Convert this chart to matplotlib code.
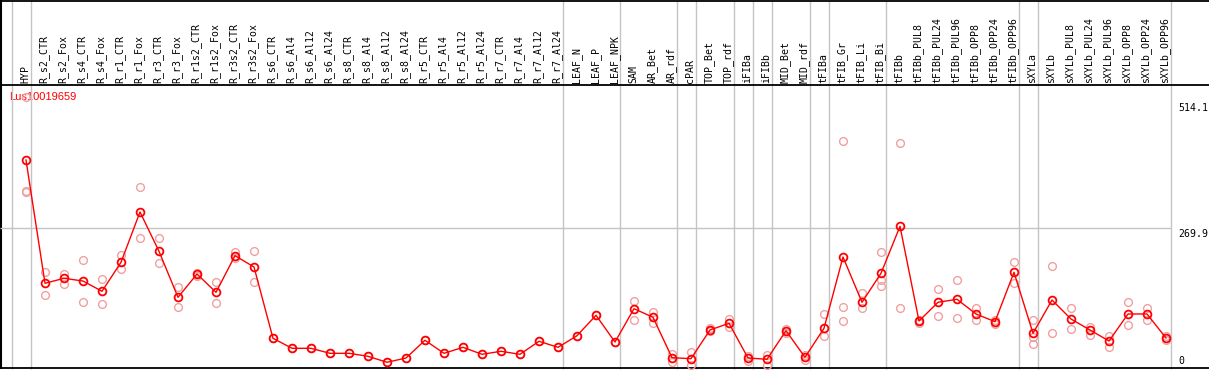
import matplotlib
matplotlib.use("Agg")
import matplotlib.pyplot as plt
import numpy as np

# ---------------- data ----------------
title = "Lus10019659"
labels = ["HYP", "R_s2_CTR", "R_s2_Fox", "R_s4_CTR", "R_s4_Fox", "R_r1_CTR", "R_r1_Fox",
          "R_r3_CTR", "R_r3_Fox", "R_r1s2_CTR", "R_r1s2_Fox", "R_r3s2_CTR", "R_r3s2_Fox",
          "R_s6_CTR", "R_s6_Al4", "R_s6_Al12", "R_s6_Al24", "R_s8_CTR", "R_s8_Al4",
          "R_s8_Al12", "R_s8_Al24", "R_r5_CTR", "R_r5_Al4", "R_r5_Al12", "R_r5_Al24",
          "R_r7_CTR", "R_r7_Al4", "R_r7_Al12", "R_r7_Al24", "LEAF_N", "LEAF_P", "LEAF_NPK",
          "SAM", "AR_Bet", "AR_rdf", "cPAR", "TOP_Bet", "TOP_rdf", "iFIBa", "iFIBb",
          "MID_Bet", "MID_rdf", "tFIBa", "tFIB_Gr", "tFIB_Li", "tFIB_Bi", "tFIBb",
          "tFIBb_PUL8", "tFIBb_PUL24", "tFIBb_PUL96", "tFIBb_OPP8", "tFIBb_OPP24",
          "tFIBb_OPP96", "sXYLa", "sXYLb", "sXYLb_PUL8", "sXYLb_PUL24", "sXYLb_PUL96",
          "sXYLb_OPP8", "sXYLb_OPP24", "sXYLb_OPP96"]
group_sizes = [1, 28, 3, 3, 1, 2, 1, 1, 2, 1, 3, 7, 1, 7]

means = [402.1, 163.2, 172.9, 167.6, 147.7, 203.9, 301.4, 225.2, 136.0, 181.2, 145.7,
         216.7, 194.8, 56.6, 37.2, 37.2, 27.5, 27.5, 21.7, 10.1, 18.4, 52.7, 27.5, 39.1,
         25.6, 31.4, 25.6, 50.8, 39.1, 61.6, 101.2, 49.4, 114.0, 97.3, 19.0, 17.1, 72.7,
         85.7, 18.4, 15.9, 71.3, 19.8, 76.0, 214.1, 126.4, 182.6, 273.6, 90.1, 126.4,
         132.2, 103.7, 88.8, 184.5, 66.3, 130.8, 94.0, 72.7, 51.4, 103.7, 103.7, 57.2]

reps = [
    [524.8, 341.5, 339.9], [184.5, 139.9], [181.2, 161.8], [208.3, 126.4], [170.9, 123.1],
    [217.4, 190.3], [349.2, 250.4], [250.4, 201.9], [156.0, 116.7], [184.1, 177.3],
    [166.3, 124.4], [223.8, 211.6], [225.2, 165.1],
    [56.6], [37.2], [37.2], [27.5], [27.5], [21.7], [10.1], [18.4], [52.7], [27.5],
    [39.1], [25.6], [31.4], [25.6], [50.8], [39.1], [61.6], [101.2], [49.4],
    [128.9, 92.1], [108.1, 86.8], [26.2, 11.2], [30.6, 4.8], [75.6, 70.0], [93.4, 77.9],
    [22.3, 13.2], [24.2, 4.8], [75.2, 67.4], [24.2, 14.5], [103.1, 61.6],
    [438.4, 116.7, 90.1], [143.8, 114.7], [223.3, 169.6, 158.5], [434.5, 114.7],
    [86.2, 92.0], [151.6, 99.2], [169.0, 95.3], [114.7, 92.6], [92.1, 83.7],
    [203.9, 163.8], [92.1, 59.7, 45.0], [196.1, 66.3], [114.7, 74.0], [79.1, 63.6],
    [61.6, 40.3], [126.4, 81.8], [114.7, 92.6], [61.6, 53.3],
]
ytick_values = [0, 269.9, 514.1]
ytick_labels = ["0", "269.9", "514.1"]

# ---------------- layout ----------------
W, H = 1209, 370
DPI = 100
fig = plt.figure(figsize=(W / DPI, H / DPI), dpi=DPI)

x0_px, dx_px = 26.0, 19.0          # pixel x of first column, column spacing
xlim = (-x0_px / dx_px, (W - x0_px) / dx_px)
plot_top, plot_bot = 85.0, 368.5   # pixel rows of plot area
y0_px, k = 367.5, 0.516           # pixel of value 0, pixels per unit

GRAY = "#c4c4c4"
RED = "#ff0000"
PINK = "#f0a0a0"
mono = "DejaVu Sans Mono"

# background axes in pixel coordinates (y downwards) for frame and header
bg = fig.add_axes([0, 0, 1, 1])
bg.set_xlim(*xlim)
bg.set_ylim(H, 0)
bg.axis("off")

ends = np.cumsum(group_sizes) - 1
seps = np.concatenate([[-1], ends]) + 0.25
bg.vlines(seps, 0, plot_bot, color=GRAY, lw=1.0, zorder=1)
bg.hlines([0.5, plot_top, plot_bot - 0.5], xlim[0], xlim[1], color="black", lw=1.3, zorder=3)
bg.vlines([xlim[0] + 0.03], 0, plot_bot, color="black", lw=1.5, zorder=3)

xs = np.arange(len(labels))
for x, lab in zip(xs, labels):
    bg.text(x - 0.05, plot_top - 2, lab, rotation=90, ha="center", va="bottom",
            fontsize=7.1, family=mono, color="black")

# main data axes
ax = fig.add_axes([0, (H - plot_bot) / H, 1, (plot_bot - plot_top) / H])
ax.set_xlim(*xlim)
ax.set_ylim((y0_px - plot_bot) / k, (y0_px - plot_top) / k)
ax.patch.set_alpha(0)
ax.axis("off")

ax.hlines([ytick_values[1]], xlim[0], seps[-1], color=GRAY, lw=1.0, zorder=1)

rx = [x for x, r in zip(xs, reps) for _ in r]
ry = [v for r in reps for v in r]
ax.plot(rx, ry, linestyle="none", marker="o", ms=5.6, mfc="none", mec=PINK,
        mew=1.0, zorder=2)
ax.plot(xs, means, color=RED, lw=1.0, marker="o", ms=5.6, mfc="none", mec=RED,
        mew=1.3, zorder=3)

# right-hand value labels
lab_x = (1178 - x0_px) / dx_px
for v, t in zip(ytick_values, ytick_labels):
    py = y0_px - v * k
    if v == 0:
        bg.text(lab_x, 366, t, ha="left", va="bottom", fontsize=7.1, family=mono)
    else:
        bg.text(lab_x, py + 0.5, t, ha="left", va="top", fontsize=7.1, family=mono)

# title
bg.text((9 - x0_px) / dx_px, 97, title, color=RED, ha="left", va="center",
        fontsize=8.0, family="Liberation Sans", zorder=0)

fig.savefig("out.png", dpi=DPI)
